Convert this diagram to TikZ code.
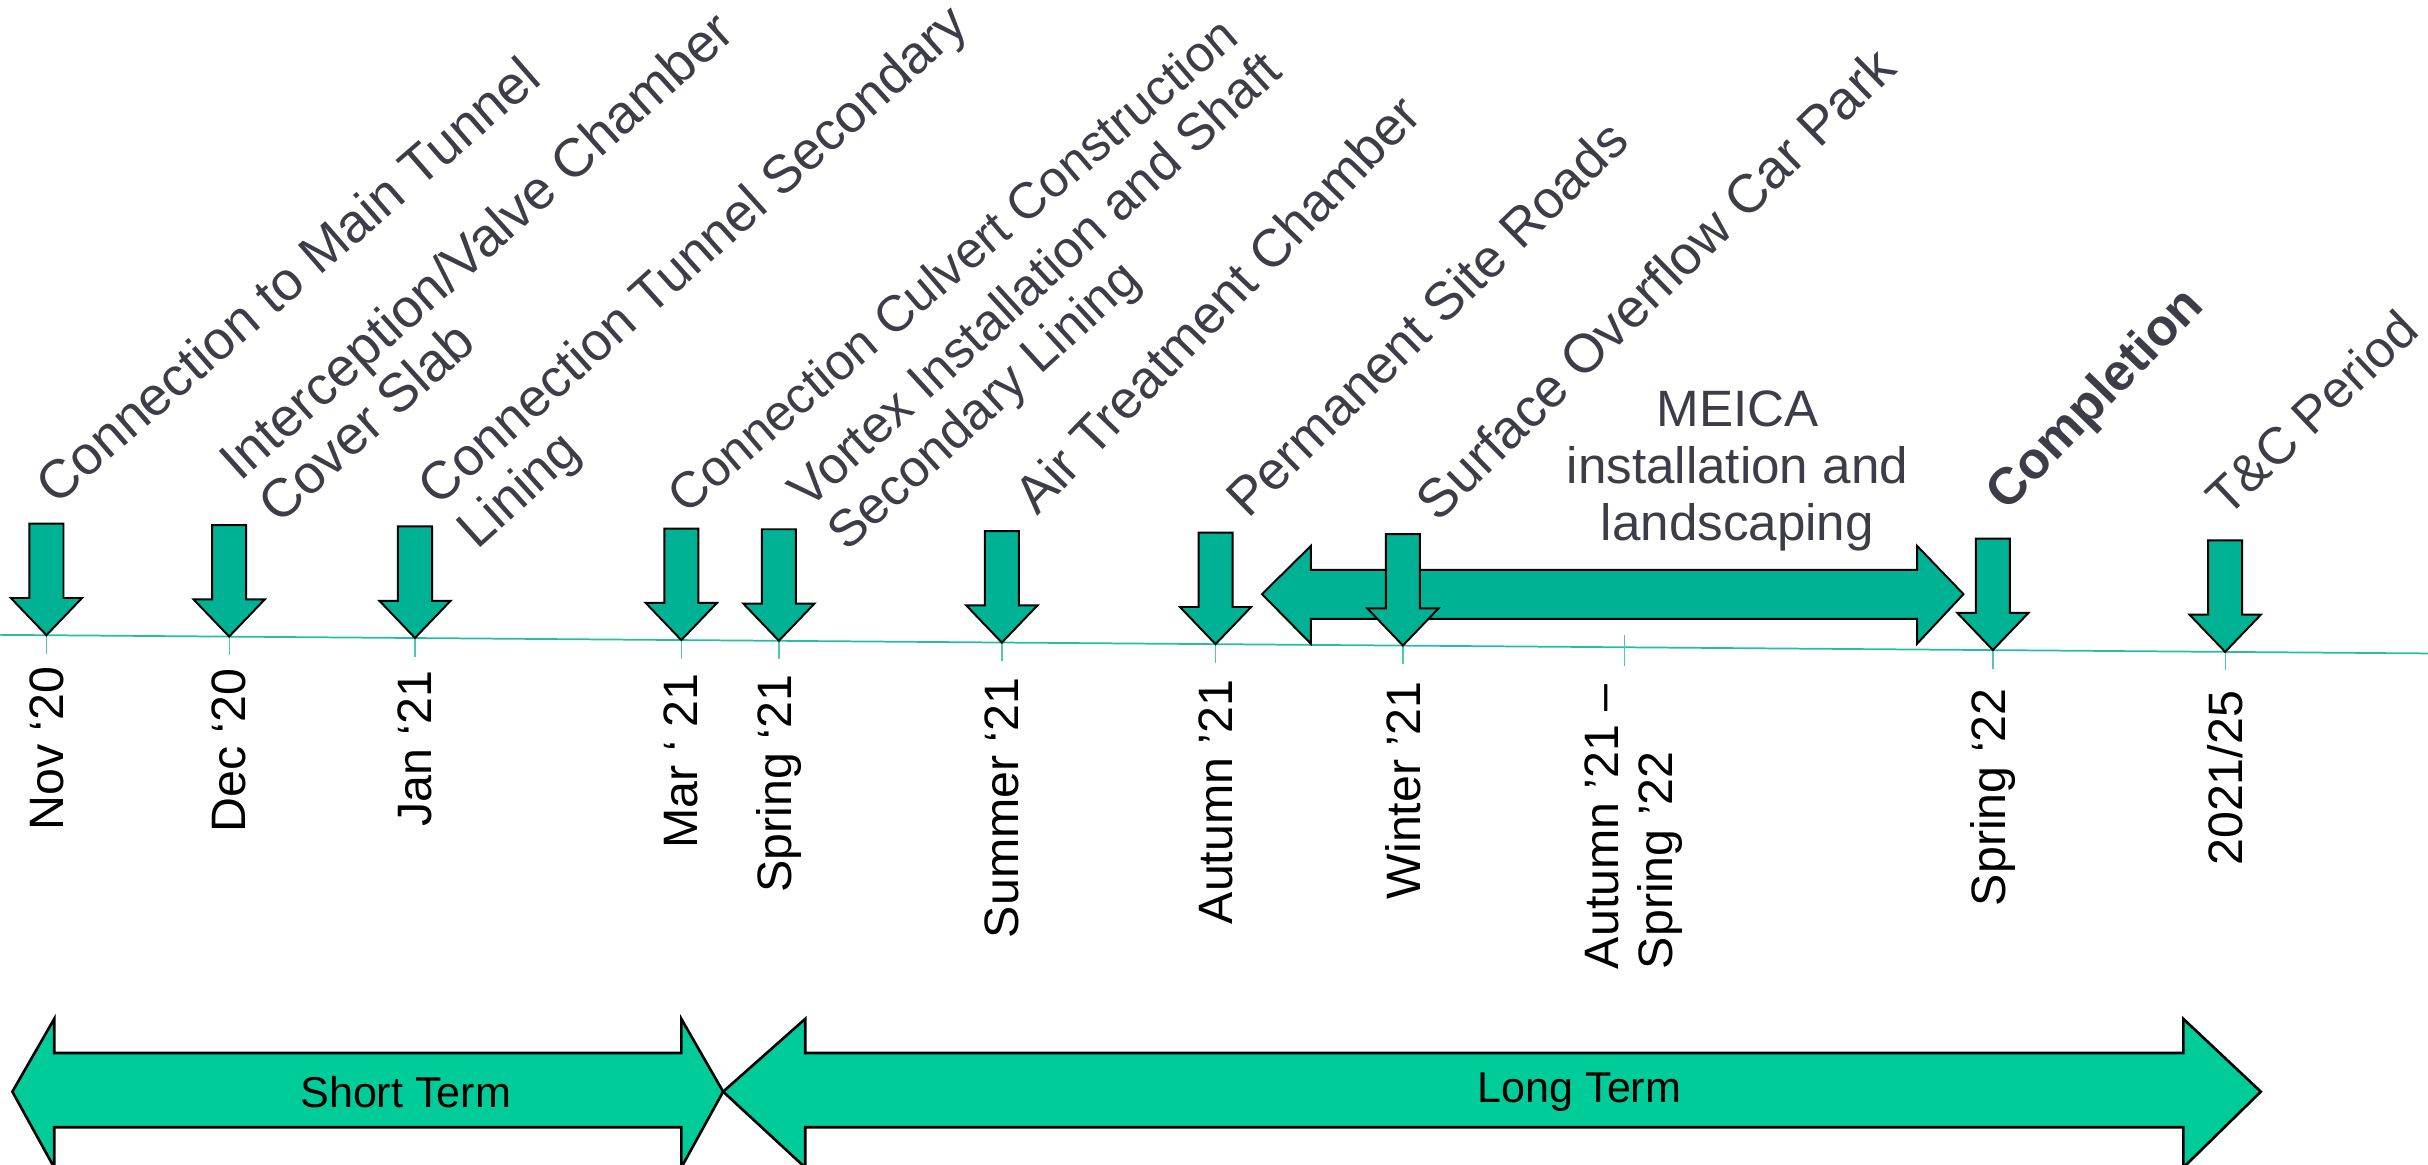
\documentclass[tikz,border=0pt]{standalone}
\usepackage{fontspec}
\setmainfont{Liberation Sans}
\usetikzlibrary{positioning}
\definecolor{markteal}{RGB}{0,178,148}
\definecolor{termteal}{RGB}{0,204,153}
\definecolor{labelgrey}{RGB}{60,61,70}
\tikzset{
 axisline/.style={markteal!85,line width=0.8},
 tickline/.style={markteal!70,line width=0.6},
 markarrow/.style={fill=markteal,draw=black,line width=0.9,line join=miter},
 termarrow/.style={fill=termteal,draw=black,line width=1.2,line join=miter},
 eventlabel/.style={anchor=base west,inner sep=0,align=left,text=labelgrey,font=\fontsize{24.9}{26.3}\selectfont},
 datelabel/.style={anchor=east,rotate=90,inner sep=0,align=left,font=\fontsize{22.2}{25}\selectfont},
 termlabel/.style={inner sep=0,font=\fontsize{19.8}{22}\selectfont}
}
\begin{document}
\begin{tikzpicture}[x=0.25mm,y=0.25mm]
 \useasboundingbox (0,0) rectangle (1568,752);
 % time axis
 \coordinate (nov) at (30,341.8);
 \coordinate (dec) at (148,340.9);
 \coordinate (jan) at (268,340);
 \coordinate (mar) at (440,338.6);
 \coordinate (spra) at (503,338.2);
 \coordinate (sum) at (647,337);
 \coordinate (aut) at (785,336);
 \coordinate (win) at (906,335.1);
 \coordinate (autspr) at (1049,334);
 \coordinate (sprb) at (1287,332.2);
 \coordinate (tc) at (1437,331);
 \draw[axisline] (0,342) -- (1568,330);
 \draw[tickline] (nov) -- ++(0,-12);
 \draw[tickline] (dec) -- ++(0,-12);
 \draw[tickline] (jan) -- ++(0,-12);
 \draw[tickline] (mar) -- ++(0,-12);
 \draw[tickline] (spra) -- ++(0,-12);
 \draw[tickline] (sum) -- ++(0,-12);
 \draw[tickline] (aut) -- ++(0,-12);
 \draw[tickline] (win) -- ++(0,-12);
 \draw[tickline] (autspr) ++(0,8) -- ++(0,-20);
 \draw[tickline] (sprb) -- ++(0,-12);
 \draw[tickline] (tc) -- ++(0,-12);
 % MEICA span
 \draw[markarrow] (815,368.3) -- (846.6,399.5) -- (846.6,384) -- (1238,384) -- (1238,399.5) -- (1268,368.3)
  -- (1238,336.2) -- (1238,352.3) -- (846.6,352.3) -- (846.6,336.2) -- cycle;
 \node[inner sep=0,align=center,text=labelgrey,font=\fontsize{23.5}{26.3}\selectfont,anchor=north] (meica) at (1122,500)
  {MEICA\\installation and\\landscaping};
 % milestone arrows
 \draw[markarrow] (nov) -- ++(23,24) -- ++(-12,0) -- ++(0,48) -- ++(-22,0) -- ++(0,-48) -- ++(-12,0) -- cycle;
 \draw[markarrow] (dec) -- ++(23,24) -- ++(-12,0) -- ++(0,48) -- ++(-22,0) -- ++(0,-48) -- ++(-12,0) -- cycle;
 \draw[markarrow] (jan) -- ++(23,24) -- ++(-12,0) -- ++(0,48) -- ++(-22,0) -- ++(0,-48) -- ++(-12,0) -- cycle;
 \draw[markarrow] (mar) -- ++(23,24) -- ++(-12,0) -- ++(0,48) -- ++(-22,0) -- ++(0,-48) -- ++(-12,0) -- cycle;
 \draw[markarrow] (spra) -- ++(23,24) -- ++(-12,0) -- ++(0,48) -- ++(-22,0) -- ++(0,-48) -- ++(-12,0) -- cycle;
 \draw[markarrow] (sum) -- ++(23,24) -- ++(-12,0) -- ++(0,48) -- ++(-22,0) -- ++(0,-48) -- ++(-12,0) -- cycle;
 \draw[markarrow] (aut) -- ++(23,24) -- ++(-12,0) -- ++(0,48) -- ++(-22,0) -- ++(0,-48) -- ++(-12,0) -- cycle;
 \draw[markarrow] (win) -- ++(23,24) -- ++(-12,0) -- ++(0,48) -- ++(-22,0) -- ++(0,-48) -- ++(-12,0) -- cycle;
 \draw[markarrow] (sprb) -- ++(23,24) -- ++(-12,0) -- ++(0,48) -- ++(-22,0) -- ++(0,-48) -- ++(-12,0) -- cycle;
 \draw[markarrow] (tc) -- ++(23,24) -- ++(-12,0) -- ++(0,48) -- ++(-22,0) -- ++(0,-48) -- ++(-12,0) -- cycle;
 % events (two-line ones sit on their last line)
 \node[eventlabel,rotate=41] (evnov) at (36,425) {Connection to Main Tunnel};
 \node[eventlabel,rotate=42] (evdec) at (180,412.5) {Interception/Valve Chamber\\Cover Slab};
 \node[eventlabel,rotate=42,font=\fontsize{24.5}{26.3}\selectfont] (evjan) at (308,396.5) {Connection Tunnel Secondary\\Lining};
 \node[eventlabel,rotate=40.5,font=\fontsize{23.3}{26.3}\selectfont] (evmar) at (443,419) {Connection Culvert Construction};
 \node[eventlabel,rotate=42.5,font=\fontsize{23.8}{26.3}\selectfont] (evspra) at (547,394.7) {Vortex Installation and Shaft\\Secondary Lining};
 \node[eventlabel,rotate=46,font=\fontsize{24.5}{26.3}\selectfont] (evsum) at (670,418) {Air Treatment Chamber};
 \node[eventlabel,rotate=44.5,font=\fontsize{24.5}{26.3}\selectfont] (evaut) at (806,416) {Permanent Site Roads};
 \node[eventlabel,rotate=44.5] (evwin) at (929,414) {Surface Overflow Car Park};
 \node[eventlabel,rotate=46,font=\fontsize{23.8}{26.3}\selectfont\bfseries] (evsprb) at (1296,421) {Completion};
 \node[eventlabel,rotate=43.5,font=\fontsize{23.8}{26.3}\selectfont] (evtc) at (1438,417) {T\&C Period};
 % dates
 \node[datelabel] (dnov) at (30,321.7) {Nov ‘20};
 \node[datelabel] (ddec) at (148,320.4) {Dec ‘20};
 \node[datelabel] (djan) at (268,319.1) {Jan ‘21};
 \node[datelabel] (dmar) at (440,317.1) {Mar ‘ 21};
 \node[datelabel] (dspra) at (503,316.4) {Spring ‘21};
 \node[datelabel] (dsum) at (647,314.7) {Summer ‘21};
 \node[datelabel] (daut) at (785,313.3) {Autumn ’21};
 \node[datelabel] (dwin) at (906,312) {Winter ’21};
 \node[datelabel] (dautspr) at (1055,310.4) {Autumn ’21 –\\Spring ’22};
 \node[datelabel] (dsprb) at (1287,307.7) {Spring ‘22};
 \node[datelabel] (dtc) at (1437,306) {2021/25};
 % terms
 \draw[termarrow] (8,47) -- (35,94) -- (35,72) -- (440,72) -- (440,94) -- (467,47)
  -- (440,-2) -- (440,24) -- (35,24) -- (35,-2) -- cycle;
 \node[termlabel] (short) at (262,47) {Short Term};
 \draw[termarrow] (467,47) -- (520,94) -- (520,72) -- (1410,72) -- (1410,94) -- (1460,47)
  -- (1410,-2) -- (1410,24) -- (520,24) -- (520,-2) -- cycle;
 \node[termlabel] (long) at (1020,47) {Long Term};
\end{tikzpicture}
\end{document}
